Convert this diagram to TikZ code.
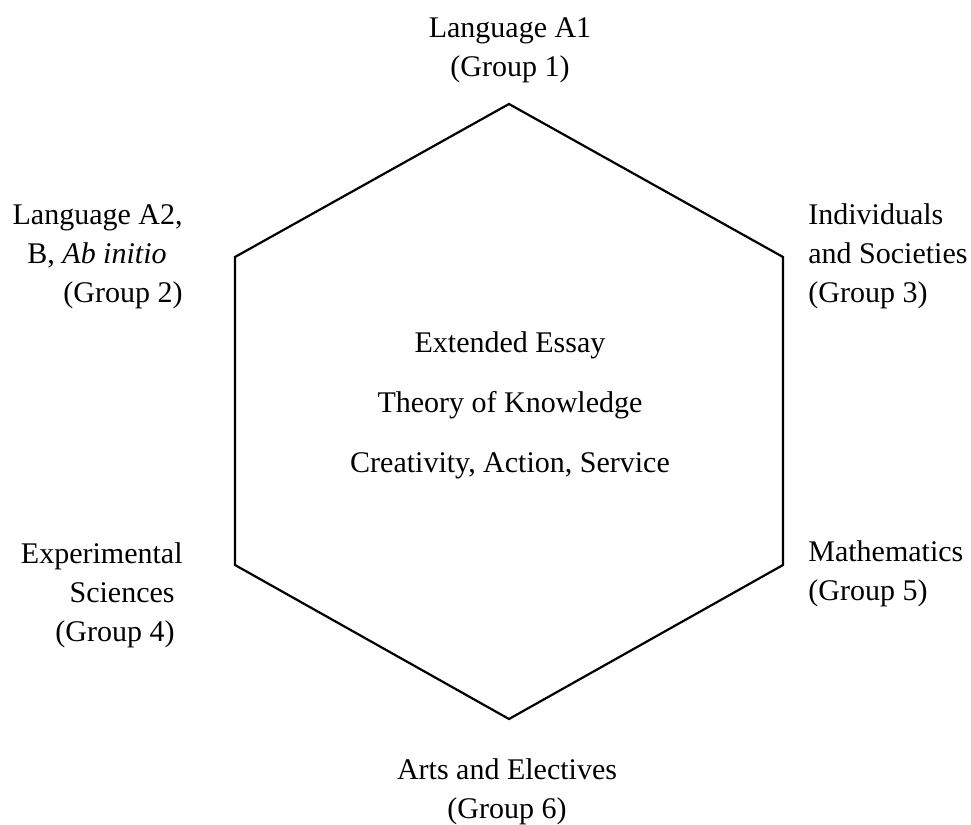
\documentclass[tikz,border=0pt]{standalone}
\usepackage{fontspec}
\setmainfont{Liberation Serif}

\tikzset{
  hexline/.style={draw=black, line width=1.1pt, line join=miter},
  grp/.style={font=\fontsize{15}{19.5}\selectfont, inner sep=0pt},
  core/.style={font=\fontsize{15}{30}\selectfont, inner sep=0pt, align=center, anchor=base}
}

\begin{document}
\begin{tikzpicture}[x=0.5pt,y=-0.5pt]
\useasboundingbox (0,0) rectangle (971,825);
% corners of the hexagon
\coordinate (top) at (509,104);
\coordinate (ur) at (783,257);
\coordinate (lr) at (783,565);
\coordinate (bot) at (509,719);
\coordinate (ll) at (235,565);
\coordinate (ul) at (235,257);
\draw[hexline] (top) -- (ur) -- (lr) -- (bot) -- (ll) -- (ul) -- cycle;
% the six groups (anchored at the baseline of their last line)
\node[grp, align=center, anchor=base] (g1) at (510,76) {Language A1\\(Group 1)};
\node[grp, align=right, anchor=base east] (g2) at (183,302) {Language A2,\\B, \textit{Ab initio}\kern8pt\\(Group 2)};
\node[grp, align=left, anchor=base west] (g3) at (808,302) {Individuals\\and Societies\\(Group 3)};
\node[grp, align=right, anchor=base east] (g4) at (183,641) {Experimental\\Sciences\kern4pt\\(Group 4)\kern4pt};
\node[grp, align=left, anchor=base west] (g5) at (808,600) {Mathematics\\(Group 5)};
\node[grp, align=center, anchor=base] (g6) at (507,818) {Arts and Electives\\(Group 6)};
% core in the middle
\node[core] (ee) at (510,472) {Extended Essay\\Theory of Knowledge\\Creativity, Action, Service};
\end{tikzpicture}
\end{document}
